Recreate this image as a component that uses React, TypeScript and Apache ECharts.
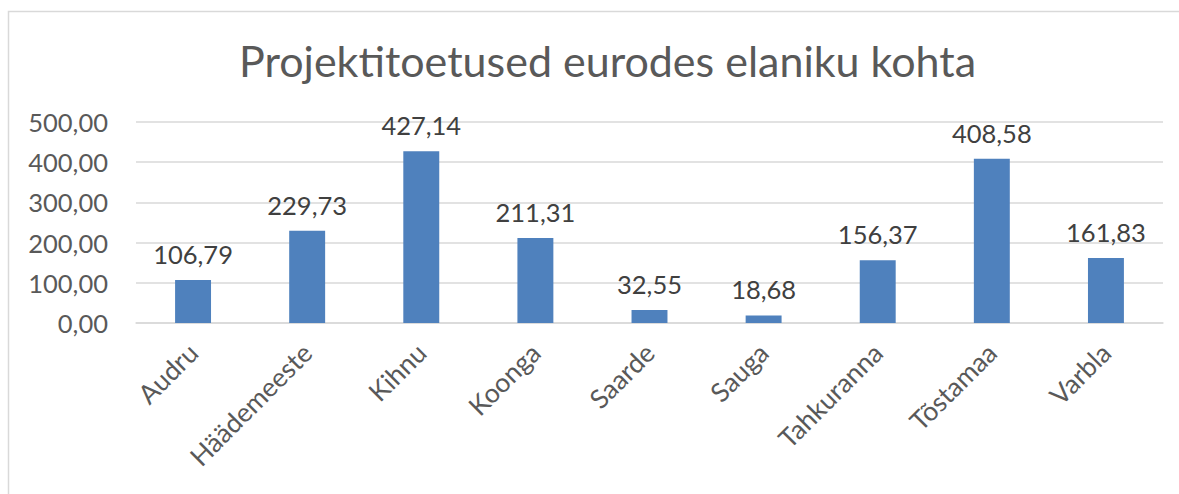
import React, { useEffect, useRef } from "react";
import * as echarts from "echarts";

const categories = ["Audru", "Häädemeeste", "Kihnu", "Koonga", "Saarde", "Sauga", "Tahkuranna", "Tõstamaa", "Varbla"];
const values = [106.79, 229.73, 427.14, 211.31, 32.55, 18.68, 156.37, 408.58, 161.83];
const yTicks = [0, 100, 200, 300, 400, 500];
const title = "Projektitoetused eurodes elaniku kohta";

const FONT = "Lato, 'Open Sans', sans-serif";
const fmt = (v: number) => v.toFixed(2).replace(".", ",");

export default function App() {
  const ref = useRef<HTMLDivElement>(null);
  useEffect(() => {
    if (!ref.current) return;
    const chart = echarts.init(ref.current, undefined, { renderer: "svg" });
    chart.setOption({
      animation: false,
      backgroundColor: "#ffffff",
      title: {
        text: title,
        left: 234,
        top: 34,
        textStyle: { fontFamily: FONT, fontSize: 43, fontWeight: "normal", color: "#595959" },
      },
      graphic: [
        {
          type: "rect",
          shape: { x: 8.5, y: 11.5, width: 1200, height: 600 },
          style: { fill: "none", stroke: "#d9d9d9", lineWidth: 1.5 },
          silent: true,
        },
      ],
      grid: { left: 136, right: 16, top: 122, bottom: 171 },
      xAxis: {
        type: "category",
        data: categories,
        axisTick: { show: false },
        axisLine: { show: true, lineStyle: { color: "#d9d9d9", width: 1.5 } },
        axisLabel: {
          rotate: 45,
          interval: 0,
          margin: 25,
          fontFamily: FONT,
          fontSize: 26.5,
          color: "#595959",
        },
      },
      yAxis: {
        type: "value",
        min: yTicks[0],
        max: yTicks[yTicks.length - 1],
        interval: 100,
        axisLine: { show: false },
        axisTick: { show: false },
        splitLine: { lineStyle: { color: "#d9d9d9", width: 1.5 } },
        axisLabel: {
          margin: 28,
          fontFamily: FONT,
          fontSize: 25.5,
          color: "#595959",
          formatter: (v: number) => fmt(v),
        },
      },
      series: [
        {
          type: "bar",
          data: values,
          barWidth: "31.5%",
          itemStyle: { color: "#4f81bd" },
          label: {
            show: true,
            position: "top",
            distance: 13,
            fontFamily: FONT,
            fontSize: 25.5,
            color: "#404040",
            formatter: (p: any) => fmt(p.value),
          },
        },
      ],
    });
    return () => chart.dispose();
  }, []);
  return (
    <div
      ref={ref}
      style={{ position: "absolute", left: 0, top: 0, width: 1179, height: 494 }}
    />
  );
}
